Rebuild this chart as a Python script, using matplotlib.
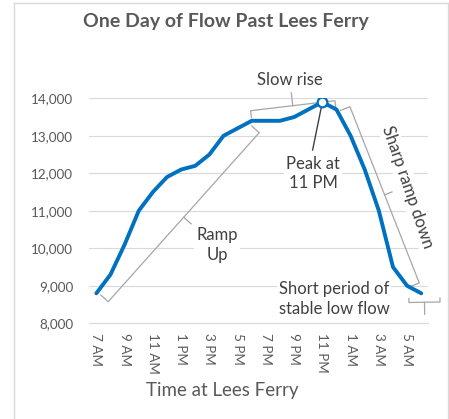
import numpy as np
import matplotlib.pyplot as plt
from matplotlib.transforms import IdentityTransform
from matplotlib.lines import Line2D

plt.rcParams['font.family'] = ['Lato', 'DejaVu Sans']

# hourly flow, 7 AM to 6 AM
hours = ['7 AM', '8 AM', '9 AM', '10 AM', '11 AM', '12 PM', '1 PM', '2 PM',
         '3 PM', '4 PM', '5 PM', '6 PM', '7 PM', '8 PM', '9 PM', '10 PM',
         '11 PM', '12 AM', '1 AM', '2 AM', '3 AM', '4 AM', '5 AM', '6 AM']
flow = [8800, 9300, 10100, 11000, 11500, 11900, 12100, 12200,
        12500, 13000, 13200, 13400, 13400, 13400, 13500, 13700,
        13900, 13700, 13000, 12100, 11000, 9500, 9000, 8800]
peak = 16  # 11 PM
yticks = [8000, 9000, 10000, 11000, 12000, 13000, 14000]

blue = '#0070C0'
grey_txt = '#595959'
dark = '#404040'
brk = '#a6a6a6'

fig = plt.figure(figsize=(4.49, 4.19), dpi=100)
ax = fig.add_axes([89.3 / 449, 1 - 323.3 / 419, 339 / 449, 225 / 419])

x = np.arange(len(flow))
ax.plot(x, flow, color=blue, lw=2.8, solid_capstyle='round', zorder=5)
ax.plot(x[peak], flow[peak], 'o', ms=7, mfc='white', mec=blue, mew=1.6, zorder=6)

ax.set_xlim(-0.5, len(flow) - 0.5)
ax.set_ylim(8000, 14000)
ax.set_yticks(yticks)
ax.set_yticklabels([f'{v:,}' for v in yticks])
ax.set_xticks(x[::2])
ax.set_xticklabels(hours[::2], rotation=-90, va='top', ha='center')
ax.tick_params(axis='y', length=0, pad=11.5, labelsize=9.7, labelcolor=grey_txt)
ax.tick_params(axis='x', length=0, pad=7, labelsize=9.7, labelcolor=grey_txt)
for s in ['top', 'right', 'left']:
    ax.spines[s].set_visible(False)
ax.spines['bottom'].set_color('#d9d9d9')
ax.grid(axis='y', color='#d9d9d9', lw=0.8, zorder=0)
ax.set_axisbelow(True)

fig.text(226 / 449, 1 - 21 / 419, 'One Day of Flow Past Lees Ferry', ha='center',
         va='center', fontsize=14, fontweight='bold', color=grey_txt)
fig.text(222 / 449, 1 - 390 / 419, 'Time at Lees Ferry', ha='center', va='center',
         fontsize=13.5, color=grey_txt)

# chart border
fig.add_artist(Line2D([14 / 449, 14 / 449], [0, 1 - 3 / 419], color='#d9d9d9', lw=1))
fig.add_artist(Line2D([14 / 449, 447.5 / 449], [1 - 3 / 419, 1 - 3 / 419], color='#d9d9d9', lw=1))
fig.add_artist(Line2D([447.5 / 449, 447.5 / 449], [0, 1 - 3 / 419], color='#d9d9d9', lw=1))


def bracket(a, b, end_len, mid_len):
    pa, pb = ax.transData.transform([a, b])
    d = (pb - pa) / np.hypot(*(pb - pa))
    n = np.array([-d[1], d[0]])
    m = (pa + pb) / 2
    pts = np.array([pa + n * end_len, pa, pb, pb + n * end_len])
    ax.add_line(Line2D(pts[:, 0], pts[:, 1], transform=IdentityTransform(),
                       color=brk, lw=0.9, clip_on=False, zorder=3))
    mt = np.array([m, m + n * mid_len])
    ax.add_line(Line2D(mt[:, 0], mt[:, 1], transform=IdentityTransform(),
                       color=brk, lw=0.9, clip_on=False, zorder=3))


bracket((0.84, 8576), (11.53, 13083), 10, -10)   # ramp up
bracket((10.92, 13669), (16.89, 13936), -7, 13)  # slow rise
bracket((17.95, 13776), (22.86, 9075), -10, 8)   # sharp ramp down
bracket((22.13, 8555), (24.33, 8568), 4, -12)    # short low period

box = dict(facecolor='white', edgecolor='none', pad=1.5)
tk = dict(fontsize=12, color=dark, ha='center', va='center', bbox=box, zorder=4,
          linespacing=1.25)
ax.text(13.71, 14488, 'Slow rise', clip_on=False, **tk)
ax.text(8.54, 10088, 'Ramp\nUp', **tk)
ax.text(15.34, 12003, 'Peak at\n11 PM', **tk)
ax.text(22.06, 11635, 'Sharp ramp down', rotation=-71, rotation_mode='anchor',
        clip_on=False, **tk)
ax.text(16.82, 8648, 'Short period of\nstable low flow', clip_on=False, **tk)
ax.plot([peak, 15.31], [flow[peak], 12621], color=dark, lw=1, zorder=4)

fig.savefig('out.png', dpi=100)
